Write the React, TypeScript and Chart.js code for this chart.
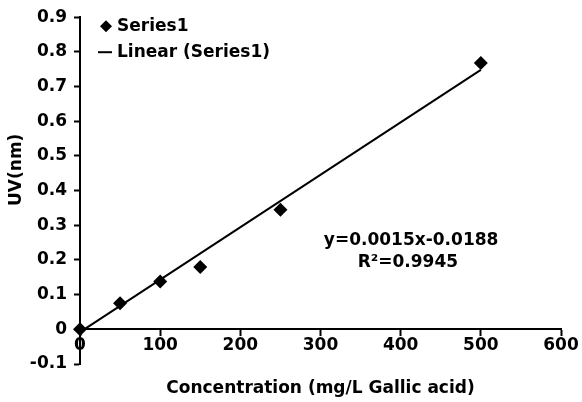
import { useEffect, useRef } from 'react';
import { Chart, registerables } from 'chart.js';

Chart.register(...registerables);

// ---- data ----
const concentrations = [0, 50, 100, 150, 250, 500];
const uvValues = [0, 0.075, 0.138, 0.18, 0.345, 0.768];
const trendX = [0, 500];
const trendY = [-0.008, 0.748];
const xTickValues = [0, 100, 200, 300, 400, 500, 600];
const yTickValues = [-0.1, 0, 0.1, 0.2, 0.3, 0.4, 0.5, 0.6, 0.7, 0.8, 0.9];
const seriesName = 'Series1';
const trendName = 'Linear (Series1)';
const equationText = 'y=0.0015x-0.0188';
const r2Text = 'R\u00B2=0.9945';
const xTitle = 'Concentration (mg/L Gallic acid)';
const yTitle = 'UV(nm)';

const FONT_FAMILY = '"DejaVu Sans", "Liberation Sans", Arial, sans-serif';
const FONT = `bold 17px ${FONT_FAMILY}`;

const overlayPlugin = {
  id: 'overlayText',
  afterDraw(chart: any) {
    const ctx = chart.ctx as CanvasRenderingContext2D;
    const area = chart.chartArea;
    const xs = chart.scales.x;
    const ys = chart.scales.y;
    ctx.save();
    ctx.fillStyle = '#000';
    ctx.strokeStyle = '#000';
    ctx.font = FONT;

    // legend (top-left inside plot)
    const mx = area.left + 26;
    const row1 = area.top + 9;
    const row2 = area.top + 35;
    const r = 6;
    ctx.beginPath();
    ctx.moveTo(mx, row1 - r);
    ctx.lineTo(mx + r, row1);
    ctx.lineTo(mx, row1 + r);
    ctx.lineTo(mx - r, row1);
    ctx.closePath();
    ctx.fill();
    ctx.lineWidth = 2;
    ctx.beginPath();
    ctx.moveTo(mx - 8, row2);
    ctx.lineTo(mx + 6, row2);
    ctx.stroke();
    ctx.textAlign = 'left';
    ctx.textBaseline = 'middle';
    ctx.fillText(seriesName, area.left + 37, row1);
    ctx.fillText(trendName, area.left + 37, row2);

    // regression annotation
    ctx.textAlign = 'center';
    ctx.fillText(equationText, xs.getPixelForValue(413), ys.getPixelForValue(0.256));
    ctx.fillText(r2Text, xs.getPixelForValue(409), ys.getPixelForValue(0.193));

    // y axis title
    ctx.translate(17, ys.getPixelForValue(0.46));
    ctx.rotate(-Math.PI / 2);
    ctx.textAlign = 'center';
    ctx.fillText(yTitle, 0, 0);
    ctx.restore();
  },
};

export default function App() {
  const ref = useRef<HTMLCanvasElement | null>(null);

  useEffect(() => {
    if (!ref.current) return;
    Chart.defaults.font.family = FONT_FAMILY;
    Chart.defaults.font.size = 17;
    Chart.defaults.font.weight = 'bold';
    Chart.defaults.color = '#000';

    const chart = new Chart(ref.current, {
      type: 'scatter',
      data: {
        datasets: [
          {
            label: seriesName,
            data: concentrations.map((c, i) => ({ x: c, y: uvValues[i] })),
            pointStyle: 'rectRot',
            pointRadius: 7,
            pointBackgroundColor: '#000',
            pointBorderColor: '#000',
            pointBorderWidth: 0,
            showLine: false,
            clip: false,
            order: 1,
          },
          {
            label: trendName,
            data: trendX.map((t, i) => ({ x: t, y: trendY[i] })),
            showLine: true,
            borderColor: '#000',
            borderWidth: 2,
            pointRadius: 0,
            clip: false,
            order: 2,
          },
        ],
      },
      options: {
        animation: false,
        responsive: false,
        events: [],
        layout: { padding: { top: 16, right: 21, left: 0, bottom: 0 } },
        plugins: {
          legend: { display: false },
          tooltip: { enabled: false },
        },
        scales: {
          x: {
            type: 'linear',
            position: { y: 0 } as any,
            min: 0,
            max: 600,
            afterBuildTicks: (s: any) => {
              s.ticks = xTickValues.map((v) => ({ value: v }));
            },
            ticks: { padding: 0, maxRotation: 0, color: '#000', font: { size: 17, weight: 'bold' } },
            grid: { drawOnChartArea: false, drawTicks: true, tickLength: 6, tickColor: '#000', tickWidth: 2 },
            border: { display: true, color: '#000', width: 2 },
          },
          x2: {
            type: 'linear',
            position: 'bottom',
            axis: 'x',
            min: 0,
            max: 600,
            ticks: { display: false },
            grid: { display: false },
            border: { display: false },
            title: { display: true, text: xTitle, color: '#000', font: { size: 17, weight: 'bold' }, padding: { top: 0, bottom: 3 } },
            afterFit: (s: any) => {
              s.height = 38;
            },
          },
          y: {
            type: 'linear',
            position: 'left',
            min: -0.1,
            max: 0.9,
            afterBuildTicks: (s: any) => {
              s.ticks = yTickValues.map((v) => ({ value: v }));
            },
            ticks: {
              padding: 7,
              color: '#000',
              font: { size: 17, weight: 'bold' },
              callback: (v: any) => (Math.abs(Number(v)) < 1e-9 ? '0' : Number(v).toFixed(1)),
            },
            grid: { drawOnChartArea: false, drawTicks: true, tickLength: 6, tickColor: '#000', tickWidth: 2 },
            border: { display: true, color: '#000', width: 2 },
            afterFit: (s: any) => {
              s.width = 80;
            },
          },
        },
      } as any,
      plugins: [overlayPlugin],
    });
    return () => chart.destroy();
  }, []);

  return (
    <div style={{ position: 'absolute', left: 0, top: 0, width: 582, height: 402, background: '#fff' }}>
      <canvas ref={ref} width={582} height={402} style={{ display: 'block', width: 582, height: 402 }} />
    </div>
  );
}
